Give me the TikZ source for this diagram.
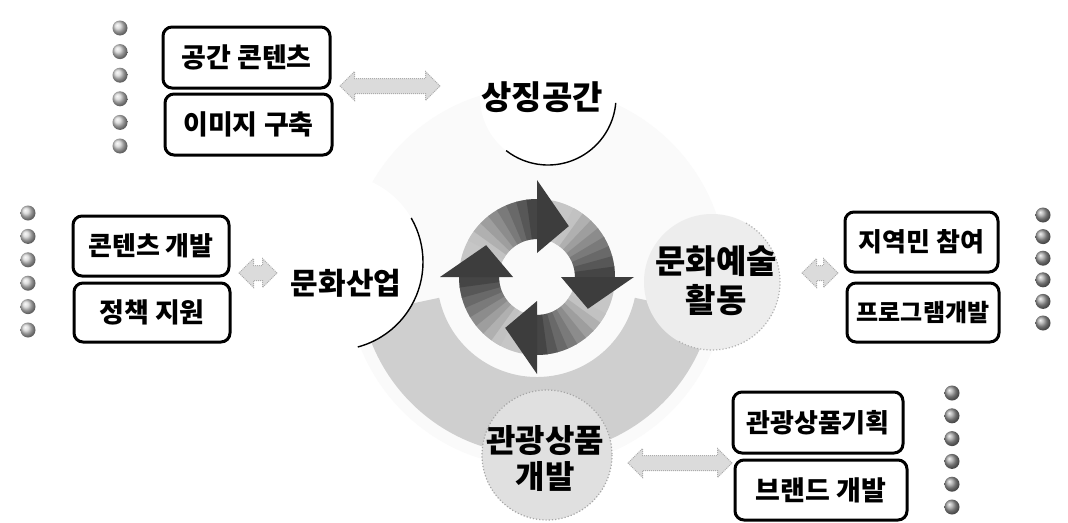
\documentclass[tikz,border=0pt]{standalone}
\usepackage{fontspec}
\newfontfamily\kr{Noto Sans CJK KR}
\usetikzlibrary{shapes.arrows,calc}
\tikzset{
  lbl/.style={font=\kr\bfseries\fontsize{33}{35}\selectfont, inner sep=0pt, align=center},
  itembox/.style={draw, line width=3pt, rounded corners=9pt, inner sep=0pt,
    font=\kr\bfseries\fontsize{27}{29}\selectfont},
  darrow/.style={double arrow, double arrow head extend=7pt, inner xsep=0pt, inner ysep=7pt,
    fill=gray!28, draw=gray!65, densely dotted, line width=1pt},
  lball/.style={ball color=gray!35},
  dball/.style={ball color=gray!75},
}
\begin{document}
\begin{tikzpicture}[x=1pt,y=-1pt]
\useasboundingbox (0,0) rectangle (1068,522);
\fill[white] (0,0) rectangle (1068,522);

% faint background disk
\fill[gray!4] (537,277) circle[radius=190];

% big lower crescent
\begin{scope}[shift={(537,277)}]
  \fill[gray!38] (12:178) arc[start angle=12, end angle=168, radius=178]
     -- (168:100) arc[start angle=168, end angle=12, radius=100] -- cycle;
\end{scope}

% side circles
\fill[white] (335,262) circle[radius=88];
\draw[line width=1.4pt] (335,262) ++(-30:88) arc[start angle=-30, end angle=75, radius=88];
\fill[gray!14] (712,282) circle[radius=68];
\draw[gray!60, dotted, line width=1.2pt] (712,282) ++(-60:68) arc[start angle=-60, end angle=120, radius=68];
\fill[white] (548,97) circle[radius=68];
\draw[line width=1.4pt] (548,97) ++(5:68) arc[start angle=5, end angle=128, radius=68];
\fill[gray!24] (547,455) circle[radius=65];
\draw[gray!70, dotted, line width=1.2pt] (547,455) circle[radius=65];

% central cycle ring
\begin{scope}[shift={(537,277)}]
  \fill[gray!45, even odd rule] (0,0) circle[radius=78] (0,0) circle[radius=38];
  \foreach \t in {0,90,180,270}{
    \foreach \i in {0,...,7}{
      \pgfmathsetmacro\a{\t-62+7.75*\i}
      \pgfmathsetmacro\b{\a+8.5}
      \pgfmathtruncatemacro\c{24+7*\i}
      \fill[black!\c] (\a:38) arc[start angle=\a, end angle=\b, radius=38]
        -- (\b:78) arc[start angle=\b, end angle=\a, radius=78] -- cycle;
    }
  }
  \foreach \t in {0,90,180,270}{
    \fill[black!76] (\t:24) -- (\t:97) -- (\t+32:60) -- cycle;
  }
\end{scope}

% main labels
\node[lbl] (sj) at (542,97) {상징공간};
\node[lbl, font=\kr\bfseries\fontsize{30}{32}\selectfont] (mh) at (346,283) {문화산업};
\node[lbl, font=\kr\bfseries\fontsize{33}{39}\selectfont] (ye) at (716,281) {문화예술\\활동};
\node[lbl, font=\kr\bfseries\fontsize{32}{36}\selectfont] (gg) at (545,458) {관광상품\\개발};

% item boxes
\node[itembox, minimum width=167, minimum height=61] (b1) at (246.5,57.5) {공간 콘텐츠};
\node[itembox, minimum width=167, minimum height=61] (b2) at (248.5,124.5) {이미지 구축};
\node[itembox, minimum width=156, minimum height=60, font=\kr\bfseries\fontsize{26}{28}\selectfont] (b3) at (151,246) {콘텐츠 개발};
\node[itembox, minimum width=156, minimum height=59] (b4) at (152,312.5) {정책 지원};
\node[itembox, minimum width=153, minimum height=60, font=\kr\bfseries\fontsize{26}{28}\selectfont] (b5) at (921.5,242) {지역민 참여};
\node[itembox, minimum width=152, minimum height=59, font=\kr\bfseries\fontsize{24}{26}\selectfont] (b6) at (923,312.5) {프로그램개발};
\node[itembox, minimum width=170, minimum height=61, font=\kr\bfseries\fontsize{26}{28}\selectfont] (b7) at (818,422.5) {관광상품기획};
\node[itembox, minimum width=172, minimum height=60] (b8) at (821,490) {브랜드 개발};

% block arrows
\node[darrow, minimum height=100] (a1) at (390,86) {};
\node[darrow, minimum height=38] (a2) at (258,273) {};
\node[darrow, minimum height=36] (a3) at (820,273) {};
\node[darrow, minimum height=104] (a4) at (680,463) {};

% bullets
\foreach \i in {0,...,5}{
  \shade[lball] (120,28+23.6*\i) circle[radius=7.5];
  \shade[lball] (28,213+23.4*\i) circle[radius=7.5];
  \shade[dball] (1043,215+21.6*\i) circle[radius=7.5];
  \shade[dball] (952,393+22.8*\i) circle[radius=7.5];
}
\end{tikzpicture}
\end{document}
